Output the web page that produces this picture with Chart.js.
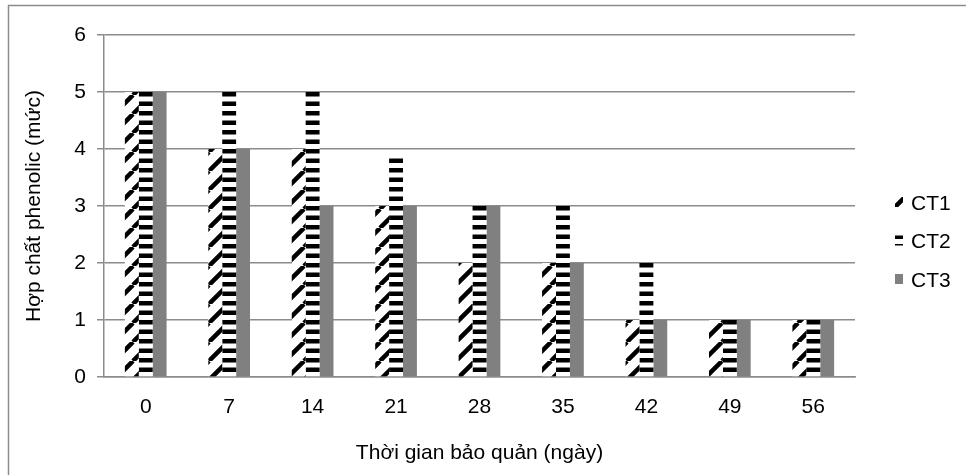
<!DOCTYPE html>
<html>
<head>
<meta charset="utf-8">
<script src="https://cdn.jsdelivr.net/npm/chart.js@4/dist/chart.umd.min.js"></script>
<style>
  html, body { margin: 0; padding: 0; background: #fff; }
  #wrap { width: 966px; height: 475px; position: relative; }
</style>
</head>
<body>
<div id="wrap"><canvas id="c" width="966" height="475"></canvas></div>
<script>
// Storage time (days) and phenolic level per treatment
const days = ['0', '7', '14', '21', '28', '35', '42', '49', '56'];
const ct1 = [5, 4, 4, 3, 2, 2, 1, 1, 1];
const ct2 = [5, 5, 5, 3.9, 3, 3, 2, 1, 1];
const ct3 = [5, 4, 3, 3, 3, 2, 1, 1, 1];
const seriesNames = ['CT1', 'CT2', 'CT3'];
const yMin = 0, yMax = 6, yStep = 1;

const FONT = "'Liberation Sans', Arial, Helvetica, sans-serif";
const FS = 21;
const GRID = '#8c8c8c';

// Hatch fills
function diagonalPattern() {
  const s = 19;
  const t = document.createElement('canvas');
  t.width = s; t.height = s;
  const g = t.getContext('2d');
  g.fillStyle = '#fff';
  g.fillRect(0, 0, s, s);
  g.strokeStyle = '#000';
  g.lineWidth = 4.5;
  g.beginPath();
  for (let k = -1; k <= 1; k++) {
    g.moveTo(k * s, s);
    g.lineTo(k * s + s, 0);
  }
  g.stroke();
  return g.createPattern(t, 'repeat');
}
function stripePattern() {
  const h = 19;
  const t = document.createElement('canvas');
  t.width = 4; t.height = h;
  const g = t.getContext('2d');
  g.fillStyle = '#fff';
  g.fillRect(0, 0, 4, h);
  g.fillStyle = '#000';
  g.fillRect(0, 6.5, 4, 4.5);
  g.fillRect(0, 16, 4, 3);
  g.fillRect(0, 0, 4, 1.5);
  return g.createPattern(t, 'repeat');
}

const fills = [diagonalPattern(), stripePattern(), '#808080'];

// Frame around the whole figure
const framePlugin = {
  id: 'frame',
  beforeDraw(chart) {
    const ctx = chart.ctx;
    ctx.save();
    ctx.strokeStyle = GRID;
    ctx.lineWidth = 1.5;
    ctx.strokeRect(8.5, 5.5, 2000, 2000);
    ctx.restore();
  }
};

// Series key on the right
const keyPlugin = {
  id: 'seriesKey',
  afterDraw(chart) {
    const ctx = chart.ctx;
    const x0 = 895, baseline0 = 209.5, gap = 38.5;
    ctx.save();
    ctx.font = FS + 'px ' + FONT;
    ctx.textBaseline = 'alphabetic';
    ctx.textAlign = 'left';
    chart.data.datasets.forEach((ds, i) => {
      const b = baseline0 + i * gap;
      ctx.fillStyle = ds.backgroundColor;
      ctx.fillRect(x0, b - 12.5, 8, 10);
      ctx.fillStyle = '#000';
      ctx.fillText(ds.label, x0 + 16, b);
    });
    ctx.restore();
  }
};

new Chart(document.getElementById('c'), {
  type: 'bar',
  data: {
    labels: days,
    datasets: [
      { label: seriesNames[0], data: ct1, backgroundColor: fills[0] },
      { label: seriesNames[1], data: ct2, backgroundColor: fills[1] },
      { label: seriesNames[2], data: ct3, backgroundColor: fills[2] }
    ]
  },
  options: {
    responsive: false,
    animation: false,
    devicePixelRatio: 1,
    layout: { padding: { left: 14, right: 111, top: 35, bottom: 0 } },
    datasets: { bar: { categoryPercentage: 0.5, barPercentage: 1, borderWidth: 0 } },
    plugins: { legend: { display: false }, tooltip: { enabled: false } },
    scales: {
      x: {
        grid: { display: false, drawTicks: false },
        border: { display: true, color: GRID, width: 1.5 },
        ticks: { color: '#000', font: { family: FONT, size: FS }, padding: 18, maxRotation: 0 },
        title: { display: true, text: 'Thời gian bảo quản (ngày)', color: '#000',
                 font: { family: FONT, size: FS }, padding: { top: 0, bottom: 9 } },
        afterFit(s) { s.height = 98; }
      },
      y: {
        min: yMin, max: yMax,
        grid: { color: GRID, lineWidth: 1.5, tickLength: 7, drawTicks: true, tickColor: GRID },
        border: { display: true, color: GRID, width: 1.5 },
        ticks: { stepSize: yStep, color: '#000', font: { family: FONT, size: FS }, padding: 11 },
        title: { display: true, text: 'Hợp chất phenolic (mức)', color: '#000',
                 font: { family: FONT, size: FS }, padding: { top: 8, bottom: 0 } },
        afterFit(s) { s.width = 90; }
      }
    }
  },
  plugins: [framePlugin, keyPlugin]
});
</script>
</body>
</html>
